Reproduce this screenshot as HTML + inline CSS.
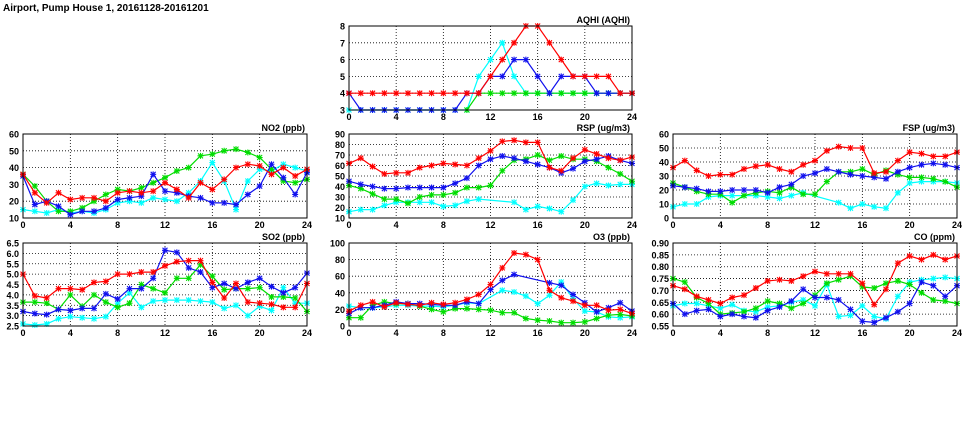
<!DOCTYPE html>
<html><head><meta charset="utf-8"><style>
html,body{margin:0;padding:0;background:#fff;}
svg{display:block;font-family:"Liberation Sans",sans-serif;font-weight:bold;}
</style></head><body>
<svg id="c" width="975" height="447" viewBox="0 0 975 447">
<text x="3" y="11" font-size="10">Airport, Pump House 1, 20161128-20161201</text>
</svg>
<script>
const hours = [0,1,2,3,4,5,6,7,8,9,10,11,12,13,14,15,16,17,18,19,20,21,22,23,24];
const xTicks = [0,4,8,12,16,20,24];
const N = null;

const aqhiRed = [4,4,4,4,4,4,4,4,4,4,4,4,5,6,7,8,8,7,6,5,5,5,5,4,4];
const aqhiBlue = [4,3,3,3,3,3,3,3,3,3,4,4,5,5,6,6,5,4,5,5,5,4,4,4,4];
const aqhiCyan = [3,3,3,3,3,3,3,3,3,3,3,5,6,7,5,4,4,4,4,4,4,4,4,4,4];
const aqhiGreen = [N,N,N,N,N,N,N,N,N,N,3,4,4,4,4,4,4,4,4,4,4,4,4,4,4];
const aqhiTicks = [3,4,5,6,7,8];

const no2Red = [36,25,19,25,21,22,22,20,25,26,25,26,31,27,22,31,27,33,40,42,41,36,40,35,39];
const no2Green = [36,29,20,14,14,16,20,24,27,26,28,31,34,38,40,47,48,50,51,49,46,39,32,31,33];
const no2Blue = [35,18,20,17,12,14,14,16,21,22,23,36,26,25,23,22,19,19,18,24,29,42,34,24,37];
const no2Cyan = [15,14,13,15,13,14,13,15,19,20,19,22,21,20,25,32,43,32,15,32,39,38,42,40,38];
const no2Ticks = [10,20,30,40,50,60];

const rspRed = [62,67,59,52,53,53,58,60,62,61,60,67,74,83,84,82,82,58,55,67,75,71,67,65,68];
const rspBlue = [45,42,40,38,38,39,39,39,39,43,48,60,66,69,67,64,61,58,53,57,64,66,69,65,62];
const rspGreen = [41,38,33,28,28,24,30,32,32,34,39,39,41,55,65,66,70,65,69,66,66,64,58,52,45];
const rspCyan = [16,18,18,22,25,25,25,25,21,22,26,28,N,N,25,18,21,19,16,27,40,43,41,42,42];
const rspTicks = [10,20,30,40,50,60,70,80,90];

const fspRed = [36,41,34,30,31,31,35,37,38,35,33,38,41,48,51,50,50,32,33,41,47,46,44,44,47];
const fspBlue = [23,22,21,19,19,20,20,20,18,22,24,30,32,35,33,31,30,29,28,33,36,38,39,38,36];
const fspGreen = [25,22,19,17,17,11,16,18,19,18,22,17,17,26,33,33,35,31,34,31,29,29,28,26,22];
const fspCyan = [8,10,10,15,16,16,16,16,15,14,16,18,N,N,11,7,10,8,7,18,25,26,26,26,25];
const fspTicks = [0,10,20,30,40,50,60];

const so2Red = [5.0,3.95,3.85,4.3,4.3,4.25,4.6,4.65,5.0,5.0,5.1,5.1,5.4,5.6,5.65,5.65,4.6,3.85,4.55,3.65,3.6,3.55,3.4,3.4,4.55];
const so2Green = [3.65,3.65,3.6,3.3,4.0,3.45,4.0,3.65,3.4,3.6,4.5,4.3,4.1,4.8,4.8,5.45,4.9,4.25,4.3,4.3,4.35,3.9,3.9,3.85,3.2];
const so2Blue = [3.2,3.1,3.05,3.3,3.25,3.35,3.35,4.05,3.8,4.3,4.3,4.8,6.15,6.05,5.3,5.1,4.35,4.55,4.3,4.6,4.8,4.4,4.1,4.35,5.05];
const so2Cyan = [2.6,2.55,2.6,2.85,2.95,2.9,2.85,2.95,3.6,4.1,3.4,3.7,3.75,3.75,3.75,3.7,3.65,3.35,3.5,3.0,3.45,3.25,4.35,3.6,3.6];
const so2Ticks = [2.5,3.0,3.5,4.0,4.5,5.0,5.5,6.0,6.5];

const o3Red = [18,25,29,23,28,26,25,28,26,28,32,38,50,70,88,86,80,43,34,30,25,25,19,20,15];
const o3Blue = [15,22,22,25,29,27,27,26,25,25,29,27,44,55,62,N,N,52,49,38,28,17,22,28,18];
const o3Green = [10,10,25,29,27,27,24,20,17,21,21,20,19,16,16,9,7,6,4,4,5,9,13,14,12];
const o3Cyan = [24,22,22,23,25,25,24,24,23,25,28,27,N,43,41,36,27,37,53,33,18,17,11,10,11];
const o3Ticks = [0,20,40,60,80,100];

const coRed = [.72,.705,.675,.66,.645,.67,.68,.71,.74,.745,.74,.76,.78,.77,.77,.77,.73,.64,.705,.815,.845,.83,.85,.83,.845];
const coGreen = [.75,.735,.67,.645,.60,.605,.61,.625,.655,.645,.625,.645,.68,.73,.745,.76,.715,.71,.73,.74,.725,.69,.66,.655,.645];
const coBlue = [.645,.60,.615,.62,.59,.60,.59,.585,.615,.63,.655,.705,.67,.67,.66,.62,.57,.565,.585,.61,.645,.735,.72,.675,.72];
const coCyan = [.635,.645,.645,.635,.625,.64,.615,.61,.63,.635,.65,.66,.635,.725,.59,.595,.635,.59,.58,.675,.735,.745,.75,.755,.75];
const coTicks = [0.55,0.60,0.65,0.70,0.75,0.80,0.85,0.90];

const svg = document.getElementById('c');
const NS = 'http://www.w3.org/2000/svg';
function mk(tag, attrs, parent){const e=document.createElementNS(NS,tag);for(const k in attrs)e.setAttribute(k,attrs[k]);(parent||svg).appendChild(e);return e;}

function panel(id, title, L, T, R, B, yTicks, dec, series){
  const g = mk('g',{});
  
  
  const y0=yTicks[0], y1=yTicks[yTicks.length-1];
  const sx = h => L + (h-0)/(24-0)*(R-L);
  const sy = v => B - (v-y0)/(y1-y0)*(B-T);
  mk('rect',{x:L,y:T,width:R-L,height:B-T,fill:'#fff'},g);
  yTicks.forEach(v=>{
    const y=sy(v);
    if(v!==y0&&v!==y1) mk('line',{x1:L,x2:R,y1:y,y2:y,stroke:'#000','stroke-width':0.8,'stroke-dasharray':'1,2'},g);
    const t=mk('text',{x:L-4,y:y+3.5,'font-size':9,'text-anchor':'end'},g);
    
    
    t.textContent=v.toFixed(dec);
  });
  xTicks.forEach(h=>{
    const x=sx(h);
    if(h!==0&&h!==24) mk('line',{x1:x,x2:x,y1:T,y2:B,stroke:'#000','stroke-width':0.8,'stroke-dasharray':'1,2'},g);
    const t=mk('text',{x:x,y:B+10,'font-size':9,'text-anchor':'middle'},g);
    
    
    t.textContent=h;
  });
  series.forEach(([name,col,vals])=>{
    const pts=[];
    vals.forEach((v,i)=>{ if(v!==null) pts.push([sx(hours[i]),sy(v)]); });
    const pl=mk('polyline',{points:pts.map(p=>p[0].toFixed(1)+','+p[1].toFixed(1)).join(' '),fill:'none',stroke:col,'stroke-width':1.2},g);
    
    
    pts.forEach(([x,y])=>{
      const m=mk('path',{d:`M${x-2.5},${y-2.5}L${x+2.5},${y+2.5}M${x-2.5},${y+2.5}L${x+2.5},${y-2.5}M${x-3},${y}L${x+3},${y}M${x},${y-3}L${x},${y+3}`,stroke:col,'stroke-width':1.1,fill:'none'},g);
      
      
    });
  });
  const bd=mk('rect',{x:L,y:T,width:R-L,height:B-T,fill:'none',stroke:'#000','stroke-width':1},g);
  
  
  const tt=mk('text',{x:R-2,y:T-3,'font-size':9,'text-anchor':'end'},g);
  
  
  tt.textContent=title;
}
const C='#00ffff',G='#00dd00',Bl='#1010ee',Rd='#ff0000';
panel('aqhi','AQHI (AQHI)',349,26,632,110,aqhiTicks,0,[['cyan',C,aqhiCyan],['green',G,aqhiGreen],['blue',Bl,aqhiBlue],['red',Rd,aqhiRed]]);
panel('no2','NO2 (ppb)',23,134,307,218,no2Ticks,0,[['cyan',C,no2Cyan],['green',G,no2Green],['blue',Bl,no2Blue],['red',Rd,no2Red]]);
panel('rsp','RSP (ug/m3)',349,134,632,218,rspTicks,0,[['cyan',C,rspCyan],['green',G,rspGreen],['blue',Bl,rspBlue],['red',Rd,rspRed]]);
panel('fsp','FSP (ug/m3)',673,134,957,218,fspTicks,0,[['cyan',C,fspCyan],['green',G,fspGreen],['blue',Bl,fspBlue],['red',Rd,fspRed]]);
panel('so2','SO2 (ppb)',23,243,307,326,so2Ticks,1,[['cyan',C,so2Cyan],['green',G,so2Green],['blue',Bl,so2Blue],['red',Rd,so2Red]]);
panel('o3','O3 (ppb)',349,243,632,326,o3Ticks,0,[['cyan',C,o3Cyan],['green',G,o3Green],['blue',Bl,o3Blue],['red',Rd,o3Red]]);
panel('co','CO (ppm)',673,243,957,326,coTicks,2,[['cyan',C,coCyan],['green',G,coGreen],['blue',Bl,coBlue],['red',Rd,coRed]]);
</script>
</body></html>
